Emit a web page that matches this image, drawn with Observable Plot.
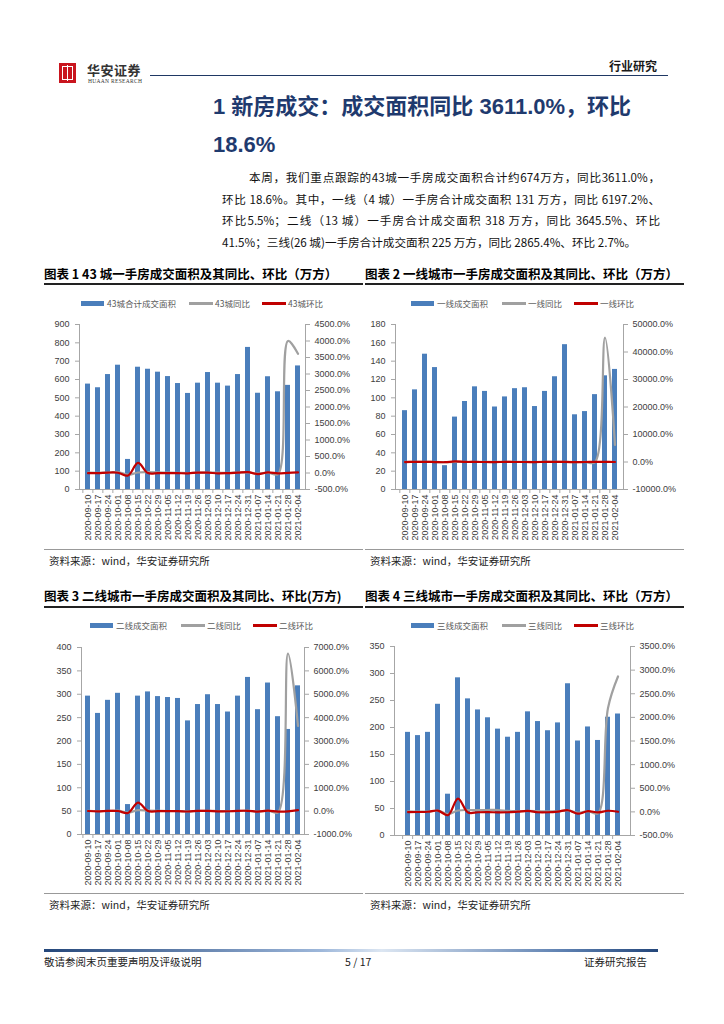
<!DOCTYPE html>
<html><head><meta charset="utf-8">
<script src="https://cdn.jsdelivr.net/npm/d3@7"></script>
<script src="https://cdn.jsdelivr.net/npm/@observablehq/plot@0.6"></script>
<style>
body{margin:0;background:#fff;}
#page{position:relative;width:724px;height:1024px;background:#fff;font-family:"Noto Sans CJK SC","Liberation Sans",sans-serif;overflow:hidden;color:#000;}
.abs{position:absolute;white-space:nowrap;line-height:1;}
</style></head><body><div id="page"></div>
<script>
// ---------- data ----------
const dates = ["2020-09-10","2020-09-17","2020-09-24","2020-10-01","2020-10-08","2020-10-15","2020-10-22","2020-10-29","2020-11-05","2020-11-12","2020-11-19","2020-11-26","2020-12-03","2020-12-10","2020-12-17","2020-12-24","2020-12-31","2021-01-07","2021-01-14","2021-01-21","2021-01-28","2021-02-04"];

const vol43 = [575,555,627,678,164,667,656,640,616,578,524,580,638,580,564,627,775,525,615,533,568,674];
const yoy43 = [10,5,10,30,-55,15,25,20,10,5,0,10,15,10,5,15,20,-20,10,-35,4000,3611.0];
const mom43 = [-5,-3.5,13,8,-76,307,-2,-2.5,-3.5,-6,-9,11,10,-9,-3,11,24,-32,17,-13,6,18.6];

const vol1 = [86,108.7,147.6,133,26,79,96,112,107,90,101,110,111,90.5,107,123,158,81.5,85,103.5,124,131];
const yoy1 = [20,40,50,30,-75,30,45,35,20,10,15,20,25,5,20,30,40,-10,15,-40,45200,6197.2];
const mom1 = [-10,26,36,-10,-80,204,22,17,-4,-16,12,9,1,-18,18,15,28,-48,4,20,21,5.5];

const vol2 = [296,259,287,302,64,296,305,295,293,291,243,278,299,278,262,296,336,267,324,252,224.7,318];
const yoy2 = [15,0,10,20,-60,40,20,10,5,5,-10,10,15,5,0,10,20,-15,20,-50,6740,3645.5];
const mom2 = [5,-12.5,11,5,-79,362,3,-3,-1,-1,-16,14,7.5,-7,-6,13,13.5,-20.5,21,-22,-11,41.5];

const vol3 = [191,185,191,243,76.5,292,253,232.5,218,197,182,191,229,211,194,208.5,281,175,201,176,219,225];
const yoy3 = [10,5,5,25,-45,30,40,35,40,40,20,15,20,15,10,10,30,-20,15,-30,2200,2865.4];
const mom3 = [-5,-3,3,27,-69,282,-13,-8,-6,-10,-8,5,20,-8,-8,7,35,-38,15,-12,24,2.7];

const leftTicks43 = [0,100,200,300,400,500,600,700,800,900];
const rightTicks43 = [-500,0,500,1000,1500,2000,2500,3000,3500,4000,4500];
const leftTicks1 = [0,20,40,60,80,100,120,140,160,180];
const rightTicks1 = [-10000,0,10000,20000,30000,40000,50000];
const leftTicks2 = [0,50,100,150,200,250,300,350,400];
const rightTicks2 = [-1000,0,1000,2000,3000,4000,5000,6000,7000];
const leftTicks3 = [0,50,100,150,200,250,300,350];
const rightTicks3 = [-500,0,500,1000,1500,2000,2500,3000,3500];

const legend43 = ["43城合计成交面积","43城同比","43城环比"];
const legend1 = ["一线成交面积","一线同比","一线环比"];
const legend2 = ["二线成交面积","二线同比","二线环比"];
const legend3 = ["三线成交面积","三线同比","三线环比"];

const BLUE = "#4A7EBB", GRAY = "#A0A0A0", RED = "#C00000", AXIS = "#A6A6A6";

// ---------- helpers ----------
const page = document.getElementById("page");
function el(text, style, cls="abs") {
  const d = document.createElement("div");
  d.className = cls;
  Object.assign(d.style, style);
  if (text != null) d.textContent = text;
  page.appendChild(d);
  return d;
}

function chart(cfg) {
  const rows = dates.map((d, i) => ({date: d, vol: cfg.vol[i], yoy: cfg.yoy[i], mom: cfg.mom[i]}));
  const lt = cfg.leftTicks, rt = cfg.rightTicks;
  const lmax = lt[lt.length - 1];
  const rmin = rt[0], rmax = rt[rt.length - 1];
  const toL = r => (r - rmin) / (rmax - rmin) * lmax;
  const fromL = v => v / lmax * (rmax - rmin) + rmin;
  const innerW = cfg.width - cfg.ml - cfg.mr;
  const step = innerW / dates.length;
  const svg = Plot.plot({
    width: cfg.width, height: cfg.height,
    marginLeft: cfg.ml, marginRight: cfg.mr, marginTop: cfg.mt, marginBottom: cfg.mb,
    style: {fontFamily: "'Liberation Sans', Arial, sans-serif", fontSize: "9px", color: "#404040", background: "transparent"},
    x: {type: "band", domain: dates, paddingInner: 0.5, paddingOuter: 0.25, label: null},
    y: {domain: [0, lmax], label: null},
    marks: [
      Plot.barY(rows, {x: "date", y: "vol", fill: BLUE}),
      Plot.line(rows, {x: "date", y: d => toL(d.yoy), stroke: GRAY, strokeWidth: 2.2, curve: "catmull-rom"}),
      Plot.line(rows, {x: "date", y: d => toL(d.mom), stroke: RED, strokeWidth: 2.2, curve: "catmull-rom"}),
      Plot.frame({anchor: "left", stroke: AXIS}),
      Plot.frame({anchor: "right", stroke: AXIS}),
      Plot.frame({anchor: "bottom", stroke: AXIS}),
      Plot.axisY(lt, {anchor: "left", label: null, tickSize: 4, tickPadding: 6, stroke: AXIS, fill: "#404040", fontSize: 9, tickFormat: d => String(d)}),
      Plot.axisY(rt.map(toL), {anchor: "right", label: null, tickSize: 4, tickPadding: 5, stroke: AXIS, fill: "#404040", fontSize: 9,
        tickFormat: d => Math.round(fromL(d)).toFixed(1) + "%"}),
      Plot.axisX({label: null, tickSize: 4, stroke: AXIS, dx: -step / 2, tickFormat: () => ""}),
      Plot.axisX({label: null, tickSize: 0, tickPadding: 5, tickRotate: -90, fill: "#404040", fontSize: 9})
    ]
  });
  const wrap = el(null, {left: cfg.left + "px", top: cfg.top + "px"});
  wrap.appendChild(svg);
}

function legend(labels, y, xs) {
  const f = {fontSize: "8.5px", color: "#595959", fontFamily: "'Noto Sans CJK SC',sans-serif"};
  el(null, {left: xs[0] + "px", top: (y - 2.5) + "px", width: "23px", height: "5px", background: BLUE});
  el(labels[0], Object.assign({left: (xs[0] + 26) + "px", top: (y - 4.5) + "px"}, f));
  el(null, {left: xs[1] + "px", top: (y - 1.5) + "px", width: "24px", height: "3px", background: GRAY});
  el(labels[1], Object.assign({left: (xs[1] + 26) + "px", top: (y - 4.5) + "px"}, f));
  el(null, {left: xs[2] + "px", top: (y - 1.5) + "px", width: "24px", height: "3px", background: RED});
  el(labels[2], Object.assign({left: (xs[2] + 26) + "px", top: (y - 4.5) + "px"}, f));
}

// ---------- header ----------
const logo = el(null, {left: "59px", top: "63px", width: "17px", height: "20px", background: "#C9151E"});
const inner = document.createElement("div");
Object.assign(inner.style, {position: "absolute", left: "3px", top: "3px", width: "9px", height: "12px", border: "1.2px solid #fff"});
logo.appendChild(inner);
const bar = document.createElement("div");
Object.assign(bar.style, {position: "absolute", left: "8px", top: "2px", width: "1.4px", height: "16px", background: "#fff"});
logo.appendChild(bar);
el("华安证券", {left: "87px", top: "63px", fontSize: "13px", fontWeight: "700", color: "#333", letterSpacing: "0.5px"});
el("HUAAN RESEARCH", {left: "88px", top: "79px", fontSize: "5.5px", color: "#333", fontFamily: "'Liberation Serif',serif", letterSpacing: "0.3px"});
el(null, {left: "150px", top: "75px", width: "518px", height: "1px", background: "#1F3864"});
el("行业研究", {left: "609px", top: "60px", fontSize: "12px", fontWeight: "700", color: "#1a1a1a"});

// ---------- headline ----------
const TITLE = "#1F3A6E";
el("1 新房成交：成交面积同比 3611.0%，环比", {left: "213px", top: "96px", fontSize: "22px", fontWeight: "700", color: TITLE, fontFamily: "'Liberation Sans','Noto Sans CJK SC',sans-serif"});
el("18.6%", {left: "213px", top: "134px", fontSize: "22px", fontWeight: "700", color: TITLE, fontFamily: "'Liberation Sans',sans-serif"});

// ---------- paragraph ----------
const para = [
  "本周，我们重点跟踪的43城一手房成交面积合计约674万方，同比3611.0%，",
  "环比 18.6%。其中，一线（4 城）一手房合计成交面积 131 万方，同比 6197.2%、",
  "环比5.5%；二线（13 城）一手房合计成交面积 318 万方，同比 3645.5%、环比",
  "41.5%；三线(26 城)一手房合计成交面积 225 万方，同比 2865.4%、环比 2.7%。"
];
const paraTop = [172, 194, 215, 237];
para.forEach((t, i) => {
  el(t, {left: (i === 0 ? 249 : 222) + "px", top: paraTop[i] + "px", width: (i === 0 ? 411 : 438) + "px",
    fontSize: "11.6px", textAlign: "justify", textAlignLast: i === 3 ? "left" : "justify", color: "#111"});
});

// ---------- chart titles, rules, sources ----------
const tStyle = {fontSize: "12.5px", fontWeight: "700", color: "#000"};
el("图表 1 43 城一手房成交面积及其同比、环比（万方）", Object.assign({left: "44px", top: "268px"}, tStyle));
el("图表 2 一线城市一手房成交面积及其同比、环比（万方）", Object.assign({left: "365px", top: "268px"}, tStyle));
el("图表 3 二线城市一手房成交面积及其同比、环比(万方)", Object.assign({left: "44px", top: "590px"}, tStyle));
el("图表 4 三线城市一手房成交面积及其同比、环比（万方）", Object.assign({left: "365px", top: "590px"}, tStyle));
[[44, 283], [365, 283], [44, 606], [365, 606]].forEach(([x, y]) =>
  el(null, {left: x + "px", top: y + "px", width: "319px", height: "1.5px", background: "#222"}));
[[44, 549], [365, 549], [44, 893], [365, 893]].forEach(([x, y]) => {
  el(null, {left: x + "px", top: y + "px", width: "319px", height: "1px", background: "#999"});
  el("资料来源：wind，华安证券研究所", {left: (x + 5) + "px", top: (y + 7) + "px", fontSize: "10.5px", color: "#222"});
});

// ---------- legends ----------
legend(legend43, 303, [81, 189, 262]);
legend(legend1, 303, [411, 502, 574]);
legend(legend2, 625, [90, 181, 253]);
legend(legend3, 625, [411, 502, 574]);

// ---------- charts ----------
chart({vol: vol43, yoy: yoy43, mom: mom43, leftTicks: leftTicks43, rightTicks: rightTicks43,
  left: 40, top: 314, width: 330, height: 235, ml: 39, mr: 65, mt: 10, mb: 60});
chart({vol: vol1, yoy: yoy1, mom: mom1, leftTicks: leftTicks1, rightTicks: rightTicks1,
  left: 365, top: 314, width: 320, height: 235, ml: 30, mr: 62, mt: 10, mb: 60});
chart({vol: vol2, yoy: yoy2, mom: mom2, leftTicks: leftTicks2, rightTicks: rightTicks2,
  left: 40, top: 637, width: 330, height: 253, ml: 41, mr: 66, mt: 10, mb: 56});
chart({vol: vol3, yoy: yoy3, mom: mom3, leftTicks: leftTicks3, rightTicks: rightTicks3,
  left: 365, top: 636, width: 320, height: 255, ml: 29, mr: 55, mt: 10, mb: 56});

// ---------- footer ----------
el(null, {left: "44px", top: "949px", width: "614px", height: "3px",
  background: "linear-gradient(to right,#23467A,#9DB7DA 45%,#DCE6F2 55%,#5C7FB0 85%,#23467A)"});
const fStyle = {fontSize: "10.5px", color: "#222", top: "957px"};
el("敬请参阅末页重要声明及评级说明", Object.assign({left: "44px"}, fStyle));
el("5 / 17", Object.assign({left: "345px"}, fStyle));
el("证券研究报告", Object.assign({left: "584px"}, fStyle));
</script></body></html>
